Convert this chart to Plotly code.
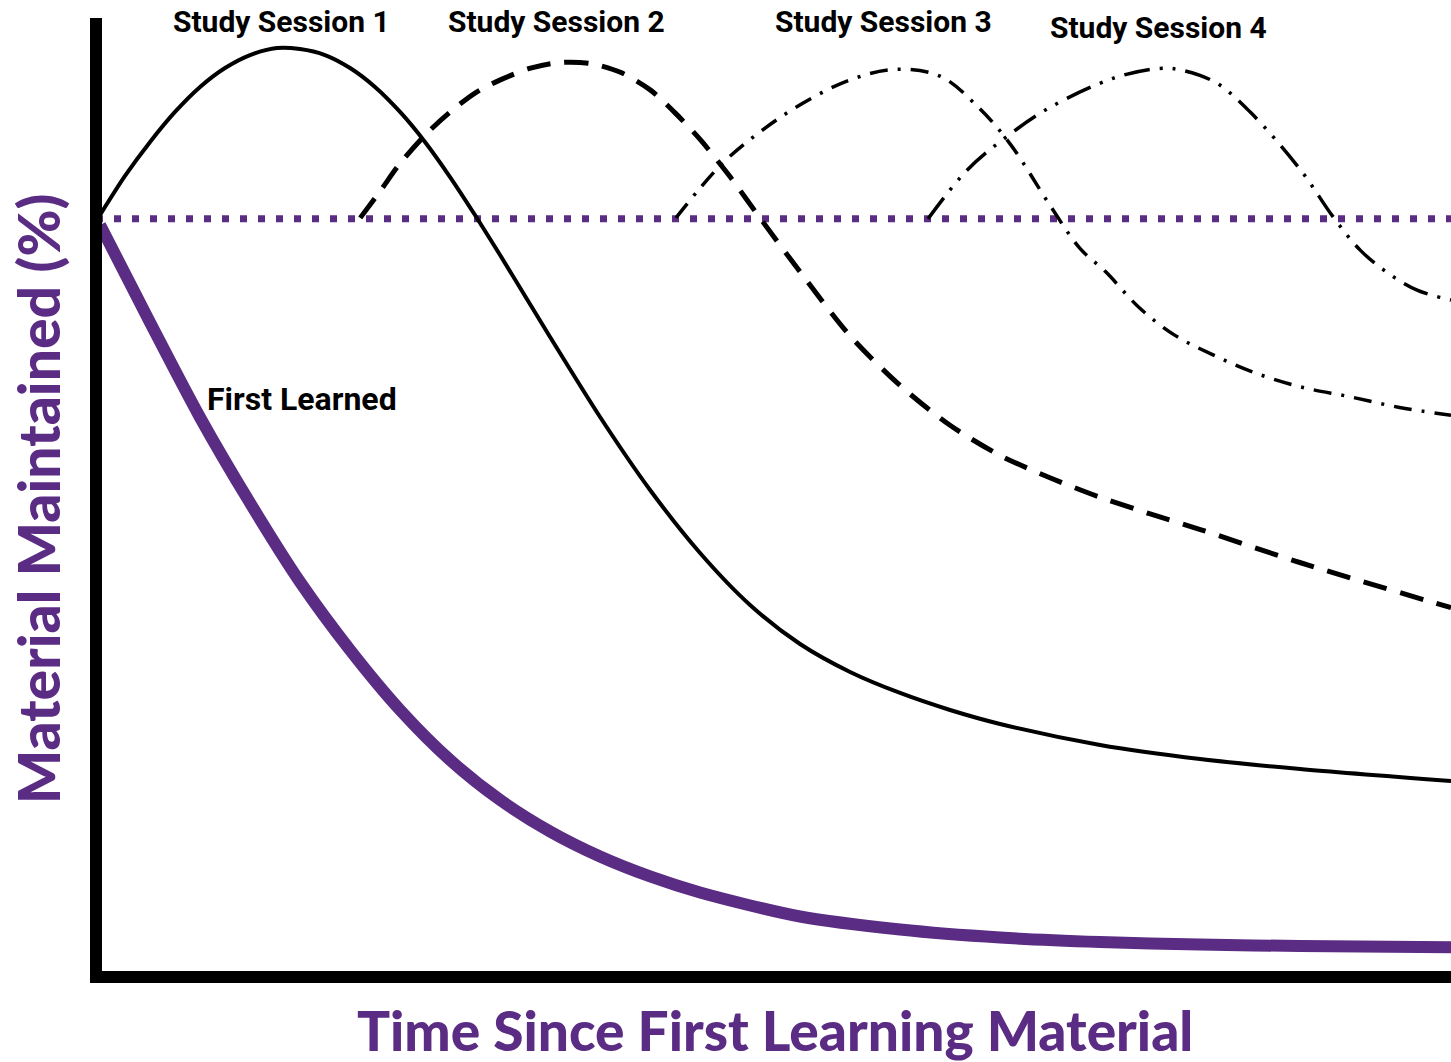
import plotly.graph_objects as go

# ---- data (x: time units 0-100, y: % of scale 0-100) ----
first_x = [0.3, 3.99, 7.68, 11.37, 15.06, 18.75, 22.44, 26.13, 29.82, 33.51, 37.2, 40.89, 44.58, 51.96, 59.34, 66.72, 74.1, 81.48, 88.86, 100]
first_y = [76.97, 66.99, 57.27, 48.52, 40.43, 33.47, 27.33, 22.21, 18.12, 14.89, 12.33, 10.29, 8.65, 6.19, 4.86, 4.04, 3.58, 3.33, 3.17, 3.05]

s1_x = [0.3, 2.14, 3.99, 5.83, 7.68, 9.52, 11.37, 13.36, 15.06, 16.9, 18.75, 20.59, 22.44, 24.28, 26.13, 27.97, 29.82,
        33.51, 37.2, 40.89, 44.58, 48.27, 51.96, 55.65, 59.34, 63.03, 66.72, 74.1, 81.48, 88.86, 100]
s1_y = [78.0, 81.99, 85.47, 88.54, 91.1, 93.04, 94.37, 95.09, 94.98, 94.37, 93.04, 91.1, 88.54, 85.47, 81.88, 77.99, 73.9,
        65.51, 57.32, 49.85, 43.4, 38.08, 34.08, 31.22, 29.07, 27.33, 25.9, 23.75, 22.31, 21.29, 20.06]

s2_x = [19.5, 21.0, 22.4, 24.3, 26.1, 28.0, 29.8, 32.0, 34.2, 36.5, 38.7, 40.9, 42.7, 44.6, 46.8, 49.0, 52.0, 55.6, 59.3, 63.0, 66.7, 70.4, 74.1, 77.8, 81.5, 88.9, 100]
s2_y = [77.7, 80.5, 83.2, 86.2, 88.5, 90.5, 91.8, 93.0, 93.6, 93.5, 92.6, 90.8, 88.5, 85.7, 81.9, 77.7, 72.1, 65.7, 60.6, 56.5, 53.4, 51.1, 49.1, 47.4, 45.8, 42.4, 37.8]

s3_x = [42.8, 46.1, 49.0, 52.0, 55.6, 59.0, 62.3, 65.2, 67.5, 70.4, 72.6, 74.5, 77.0, 79.6, 82.4, 85.4, 88.9, 92.5, 96.2, 100]
s3_y = [77.7, 83.1, 86.5, 89.3, 91.8, 92.9, 92.2, 88.9, 85.2, 79.0, 74.6, 72.2, 68.5, 65.7, 63.7, 61.9, 60.4, 59.4, 58.3, 57.5]

s4_x = [61.4, 64.3, 67.2, 70.4, 75.1, 78.5, 80.2, 82.7, 85.2, 88.9, 91.3, 93.3, 95.3, 97.5, 100]
s4_y = [77.6, 82.6, 86.0, 89.0, 92.0, 93.0, 92.8, 91.5, 88.5, 82.6, 77.8, 74.4, 72.1, 70.3, 69.3]

baseline_x = [0, 100]
baseline_y = [77.6, 77.6]

session_labels = ["Study Session 1", "Study Session 2", "Study Session 3", "Study Session 4"]
first_label = "First Learned"
x_title = "Time Since First Learning Material"
y_title = "Material Maintained (%)"

PURPLE = "#5B2C83"

fig = go.Figure()

fig.add_trace(go.Scatter(x=baseline_x, y=baseline_y, mode="lines",
                         line=dict(color=PURPLE, width=7, dash="7px,11px"), hoverinfo="skip"))
fig.add_trace(go.Scatter(x=first_x, y=first_y, mode="lines", line_shape="spline",
                         line=dict(color=PURPLE, width=12, smoothing=0.8), hoverinfo="skip"))
fig.add_trace(go.Scatter(x=s1_x, y=s1_y, mode="lines", line_shape="spline",
                         line=dict(color="black", width=4, smoothing=0.8), hoverinfo="skip"))
fig.add_trace(go.Scatter(x=s2_x, y=s2_y, mode="lines", line_shape="spline",
                         line=dict(color="black", width=5, dash="24px,14px", smoothing=0.8), hoverinfo="skip"))
fig.add_trace(go.Scatter(x=s3_x, y=s3_y, mode="lines", line_shape="spline",
                         line=dict(color="black", width=3.5, dash="18px,10px,3px,10px"), hoverinfo="skip"))
fig.add_trace(go.Scatter(x=s4_x, y=s4_y, mode="lines", line_shape="spline",
                         line=dict(color="black", width=3.5, dash="26px,10px,3px,10px,3px,10px"), hoverinfo="skip"))

label_font = dict(family="Roboto, DejaVu Sans, sans-serif", size=30, color="black")
label_pos = [(0.137, 0.9775), (0.3395, 0.9775), (0.5815, 0.9775), (0.7838, 0.9714)]
annotations = []
for txt, (ax, ay) in zip(session_labels, label_pos):
    annotations.append(dict(text="<b>" + txt + "</b>", x=ax, y=ay, xref="paper", yref="paper",
                            showarrow=False, font=label_font, xanchor="center", yanchor="middle"))
annotations.append(dict(text="<b>" + first_label + "</b>", x=0.1521, y=0.5916, xref="paper", yref="paper",
                        showarrow=False, font=dict(family="Roboto, DejaVu Sans, sans-serif", size=32, color="black"),
                        xanchor="center", yanchor="middle"))
annotations.append(dict(text=y_title, x=-0.0428, y=0.4893, xref="paper", yref="paper",
                        showarrow=False, textangle=-90, xanchor="center", yanchor="middle",
                        font=dict(family="Lato, Open Sans, sans-serif", size=57, color=PURPLE, weight=900)))
annotations.append(dict(text=x_title, x=0.501, y=-0.0542, xref="paper", yref="paper",
                        showarrow=False, xanchor="center", yanchor="middle",
                        font=dict(family="Lato, Open Sans, sans-serif", size=55, color=PURPLE, weight=900)))

shapes = [
    dict(type="line", xref="paper", yref="paper", x0=0, x1=0, y0=-0.006, y1=0.9816,
         line=dict(color="black", width=12), layer="above"),
    dict(type="line", xref="paper", yref="paper", x0=-0.0044, x1=1, y0=0, y1=0,
         line=dict(color="black", width=12), layer="above"),
]

fig.update_layout(
    width=1451, height=1062,
    margin=dict(l=96, r=0, t=0, b=85),
    paper_bgcolor="white", plot_bgcolor="white",
    showlegend=False,
    xaxis=dict(range=[0, 100], visible=False, fixedrange=True),
    yaxis=dict(range=[0, 100], visible=False, fixedrange=True),
    annotations=annotations,
    shapes=shapes,
)

fig.write_html("out.html", config={"displayModeBar": False},
               post_script="document.body.style.margin='0';document.body.style.overflow='hidden';")
